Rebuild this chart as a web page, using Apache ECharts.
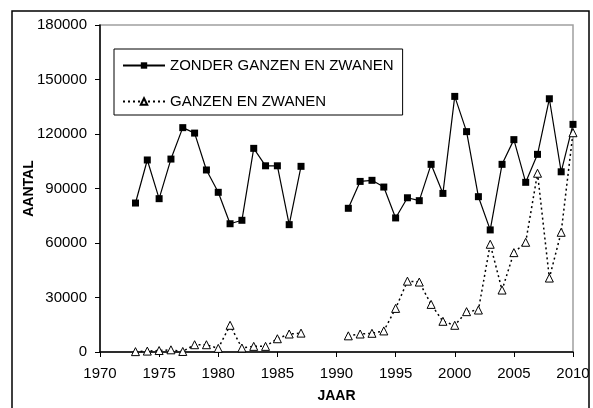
<!DOCTYPE html>
<html>
<head>
<meta charset="utf-8">
<script src="https://cdn.jsdelivr.net/npm/echarts@6/dist/echarts.min.js"></script>
<style>
  html, body { margin: 0; padding: 0; background: #fff; }
  #chart { width: 593px; height: 408px; }
</style>
</head>
<body>
<div id="chart"></div>
<script>
const years = [1973, 1974, 1975, 1976, 1977, 1978, 1979, 1980, 1981, 1982,
  1983, 1984, 1985, 1986, 1987, 1988, 1989, 1990, 1991, 1992, 1993, 1994,
  1995, 1996, 1997, 1998, 1999, 2000, 2001, 2002, 2003, 2004, 2005, 2006,
  2007, 2008, 2009, 2010];

const zonder = [82000, 105700, 84400, 106200, 123500, 120500, 100200, 87900,
  70600, 72500, 112100, 102500, 102500, 70100, 102200, null, null, null,
  79100, 93900, 94500, 90800, 73800, 84900, 83300, 103300, 87300, 140700,
  121300, 85500, 67200, 103300, 116900, 93400, 108800, 139400, 99200, 125300];

const ganzen = [200, 500, 800, 1200, 300, 4000, 4000, 2000, 14700, 2200,
  3100, 3100, 7300, 9900, 10400, null, null, null, 8900, 9900, 10300, 11600,
  24000, 39000, 38500, 26200, 16900, 14700, 22200, 23100, 59300, 34100,
  54700, 60400, 98400, 40700, 65900, 120700];

const seriesNames = ['ZONDER GANZEN EN ZWANEN', 'GANZEN EN ZWANEN'];

const font = 'Liberation Sans, Arial, sans-serif';

const chart = echarts.init(document.getElementById('chart'));

chart.setOption({
  animation: false,
  backgroundColor: '#fff',
  graphic: [{
    type: 'rect',
    shape: { x: 12, y: 11, width: 577, height: 410 },
    style: { fill: 'none', stroke: '#000', lineWidth: 1.5 },
    silent: true
  }],
  grid: {
    left: 100, top: 25, right: 20, bottom: 56,
    show: true, borderColor: '#a0a0a0', borderWidth: 1.5
  },
  legend: {
    orient: 'vertical',
    left: 114, top: 49,
    padding: [9, 9, 6, 8],
    itemWidth: 42, itemHeight: 8,
    itemGap: 21,
    borderColor: '#000', borderWidth: 1,
    textStyle: { fontFamily: font, fontSize: 15, color: '#000' },
    data: seriesNames
  },
  xAxis: {
    type: 'value',
    min: 1970, max: 2010, interval: 5,
    name: 'JAAR', nameLocation: 'middle', nameGap: 37,
    nameMoveOverlap: false,
    nameTextStyle: { fontFamily: font, fontSize: 14, fontWeight: 'bold', color: '#000' },
    axisLine: { lineStyle: { color: '#000', width: 1.5 } },
    axisTick: { length: 5, lineStyle: { color: '#000' } },
    axisLabel: { fontFamily: font, fontSize: 15, color: '#000', margin: 14,
      formatter: v => String(v) },
    splitLine: { show: false }
  },
  yAxis: {
    type: 'value',
    min: 0, max: 180000, interval: 30000,
    name: 'AANTAL', nameLocation: 'middle', nameGap: 64,
    nameMoveOverlap: false,
    nameTextStyle: { fontFamily: font, fontSize: 14, fontWeight: 'bold', color: '#000' },
    axisLine: { show: true, lineStyle: { color: '#000', width: 1.5 } },
    axisTick: { show: true, length: 5, lineStyle: { color: '#000' } },
    axisLabel: { fontFamily: font, fontSize: 15, color: '#000', margin: 13,
      formatter: v => String(v) },
    splitLine: { show: false }
  },
  series: [
    {
      name: seriesNames[0],
      type: 'line',
      data: years.map((y, i) => [y, zonder[i]]),
      connectNulls: false,
      symbol: 'rect', symbolSize: 7,
      itemStyle: { color: '#000' },
      lineStyle: { color: '#000', width: 1.2 }
    },
    {
      name: seriesNames[1],
      type: 'line',
      data: years.map((y, i) => [y, ganzen[i]]),
      connectNulls: false,
      symbol: 'triangle', symbolSize: 8,
      itemStyle: { color: '#fff', borderColor: '#000', borderWidth: 1 },
      lineStyle: { color: '#000', width: 1.5, type: [2, 3] }
    }
  ]
});
</script>
</body>
</html>
